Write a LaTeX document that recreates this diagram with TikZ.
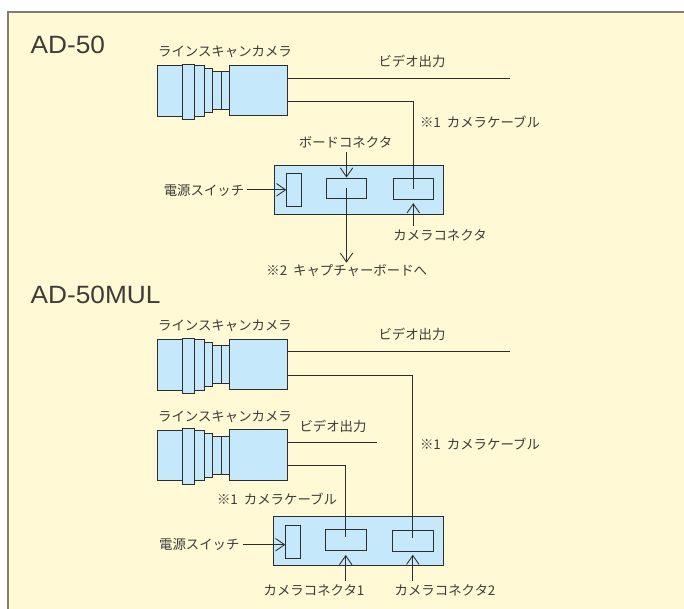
\documentclass[tikz,border=0pt]{standalone}
\usepackage{fontspec}
\setmainfont{Noto Sans CJK JP}
\newfontfamily\lat[FakeStretch=1.05]{Liberation Sans}
\usetikzlibrary{arrows.meta}
\definecolor{bgy}{RGB}{255,249,214}
\definecolor{bluef}{RGB}{197,232,250}
\definecolor{ink}{RGB}{45,45,45}
\definecolor{txt}{RGB}{62,60,55}
\definecolor{edge}{RGB}{130,126,112}
\tikzset{x=1pt,y=-1pt,
 part/.style={draw=ink,fill=bluef,line width=0.9pt,inner sep=0pt},
 wire/.style={draw=ink,line width=0.85pt},
 openarrow/.style={wire,-{Straight Barb[length=9pt,width=12.5pt,line width=0.85pt]}},
 lbl/.style={font=\fontsize{13.4}{15}\selectfont,text=txt,inner sep=0pt},
 head/.style={font=\lat\fontsize{25}{27}\selectfont,text=txt,inner sep=0pt,anchor=west},
 base/.style={part,minimum width=169pt,minimum height=49pt},
 switchbox/.style={part,minimum width=15pt,minimum height=33pt},
 conn/.style={part,minimum width=40.6pt,minimum height=20.6pt}}
\newcommand{\lenscamera}[3]{%
 \begin{scope}[shift={(#1,#2)}]
 \draw[part] (0,0) rectangle (25,50.7);
 \draw[part] (36.7,0) rectangle (47.4,50.7);
 \draw[part] (47.4,3) rectangle (55.4,47);
 \draw[part] (55.4,6.4) rectangle (63.7,44);
 \draw[part] (63.7,6.4) rectangle (72,44);
 \draw[part] (25,-1.3) rectangle (36.7,54);
 \node[part,minimum width=58.4pt,minimum height=50.3pt] (#3) at (101.2,24.8) {};
 \end{scope}}
\begin{document}
\begin{tikzpicture}
\useasboundingbox (0,0) rectangle (684,608);
\fill[white] (0,0) rectangle (684,608);
\draw[fill=bgy,draw=edge,line width=1.4pt] (8,12) rectangle (710,640);
\node[head] (t1) at (30.5,45) {AD-50};
\node[head] (t2) at (30.5,295) {AD-50MUL};
% AD-50
\lenscamera{157.3}{65.3}{cam1}
\node[lbl] (c1) at (225,52) {ラインスキャンカメラ};
\coordinate (v1) at (510,78);
\coordinate (turn1) at (288,101);
\draw[wire] (cam1.east |- v1) -- (v1);
\node[lbl] (vl1) at (412,61) {ビデオ出力};
\node[base] (b1) at (359,189.5) {};
\node[switchbox] (s1) at (294.2,189.8) {};
\node[conn] (k1) at (346.5,188.3) {};
\node[conn,minimum height=21.6pt] (k2) at (413.3,188.9) {};
\draw[wire] (turn1) -| (k2.center);
\node[lbl] (cb1) at (480,122) {※1\hspace{3pt} カメラケーブル};
\node[lbl] (bl) at (345.5,142) {ボードコネクタ};
\coordinate (blA) at (346.5,152);
\draw[openarrow] (blA) -- (k1.north);
\node[lbl] (sl1) at (204,190) {電源スイッチ};
\draw[openarrow] (sl1.east |- s1.west) ++(2.5,0) -- (s1.west);
\node[lbl] (cl1) at (440,235) {カメラコネクタ};
\coordinate (clA) at (413.3,226);
\draw[openarrow,shorten >=3pt] (clA) -- (k2.south);
\node[lbl] (cap) at (346.7,271) {※2\hspace{3pt} キャプチャーボードへ};
\coordinate (capA) at (346.5,262.7);
\draw[openarrow] (k1.center) -- (capA);
% AD-50MUL
\lenscamera{157.3}{339.3}{cam2}
\node[lbl] (c2) at (225,325.7) {ラインスキャンカメラ};
\coordinate (v2) at (510,351.7);
\coordinate (turn2) at (288,375);
\draw[wire] (cam2.east |- v2) -- (v2);
\node[lbl] (vl2) at (412,334) {ビデオ出力};
\lenscamera{157.3}{430}{cam3}
\node[lbl] (c3) at (225,417) {ラインスキャンカメラ};
\coordinate (v3) at (377,442);
\coordinate (turn3) at (288,465.7);
\draw[wire] (cam3.east |- v3) -- (v3);
\node[lbl] (vl3) at (333,426) {ビデオ出力};
\node[base,minimum width=169.6pt] (b2) at (358.5,541.2) {};
\node[switchbox] (s2) at (293.2,541.8) {};
\node[conn] (k3) at (345.7,540.2) {};
\node[conn,minimum height=21.3pt] (k4) at (412.8,540.6) {};
\coordinate (e3) at (345.7,536.7);
\coordinate (e4) at (412.8,538);
\draw[wire] (turn3) -| (e3);
\draw[wire] (turn2) -| (e4);
\node[lbl] (cb2) at (480,444) {※1\hspace{3pt} カメラケーブル};
\node[lbl] (cb3) at (277,499) {※1\hspace{3pt} カメラケーブル};
\node[lbl] (sl2) at (199.3,544.7) {電源スイッチ};
\coordinate (sw2) at (s2.west |- sl2.east);
\draw[openarrow] (sl2.east) ++(3,0) -- (sw2);
\node[lbl] (cl2) at (314,590) {カメラコネクタ1};
\node[lbl] (cl3) at (445,590) {カメラコネクタ2};
\coordinate (cl2A) at (345.7,581);
\coordinate (cl3A) at (412.8,581);
\draw[openarrow,shorten >=4pt] (cl2A) -- (k3.south);
\draw[openarrow,shorten >=3pt] (cl3A) -- (k4.south);
\end{tikzpicture}
\end{document}
